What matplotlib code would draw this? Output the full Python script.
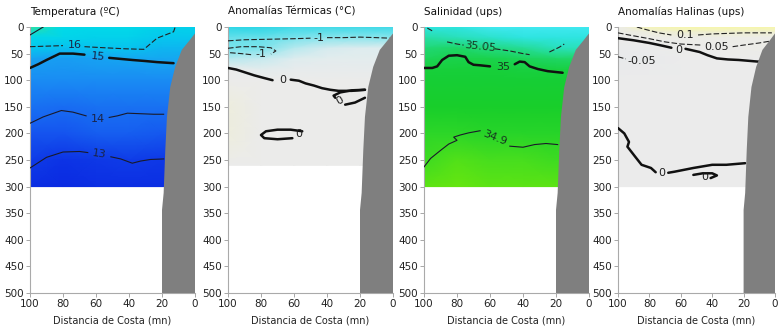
import numpy as np
import matplotlib
matplotlib.use("Agg")
import matplotlib.pyplot as plt
from matplotlib.colors import LinearSegmentedColormap, Normalize

nan = np.nan

# ejes comunes
dist = [100, 80, 60, 40, 20, 0]
x_ticks = [100, 80, 60, 40, 20, 0]
y_ticks = [0, 50, 100, 150, 200, 250, 300, 350, 400, 450, 500]

# perfil de la costa (distancia, profundidad)
land_x = [0, 0, 3, 8, 12, 15, 17, 18, 19, 20, 20, 0]
land_z = [500, 12, 24, 43, 75, 113, 169, 231, 312, 344, 500, 500]

# ---------------- Temperatura ----------------
temp_depth = [0, 20, 40, 60, 80, 100, 150, 200, 250, 300]
temp_vals = [
    [17.2, 16.6, 16.5, 16.5, 16.3, 16.3],
    [16.4, 16.4, 16.3, 16.3, 16.0, 16.0],
    [16.0, 15.8, 15.9, 15.9, 15.6, 15.6],
    [15.1, 15.0, 15.1, 15.2, 15.2, 15.2],
    [14.9, 14.85, 14.9, 14.9, 14.95, 14.9],
    [14.7, 14.7, 14.7, 14.7, 14.7, 14.7],
    [14.2, 14.1, 14.2, 14.2, 14.2, 14.2],
    [13.6, 13.6, 13.8, 13.8, 13.7, 13.7],
    [13.1, 12.9, 13.0, 13.1, 13.0, 13.0],
    [12.8, 12.7, 12.8, 12.8, 12.8, 12.8],
]
temp_lines = [
    # x, z, estilo, etiqueta, (x_lab, z_lab), rotacion
    ([100, 92], [15, 0], "thin", None, None, 0),
    ([100, 90, 80, nan, 67, 55, 42, 31, 23, 13, 12],
     [37, 36, 35, nan, 37, 39, 41, 42, 21, 9, 0], "dash", "16", (73, 34), 0),
    ([100, 95, 90, 82, 74, 67, nan, 52, 45, 38, 30, 23, 13],
     [77, 70, 62, 50, 50, 52, nan, 58, 60, 62, 64, 66, 68], "thick", "15", (59, 55), -5),
    ([100, 92, 81, 74, 66, nan, 52, 47, 41, 33, 25, 19],
     [181, 169, 157, 160, 167, nan, 170, 167, 162, 163, 164, 164], "thin", "14", (59, 172), 0),
    ([100, 95, 90, 80, 70, 65, nan, 51, 45, 38, 33, 27, 19],
     [265, 255, 245, 235, 234, 236, nan, 244, 248, 256, 252, 249, 248], "thin", "13", (58, 238), -8),
]

# ---------------- Anomalias termicas ----------------
at_depth = [0, 20, 40, 60, 80, 100, 150, 200, 260]
at_vals = [
    [-1.4, -1.4, -1.3, -1.3, -1.3, -1.3],
    [-1.1, -1.1, -1.0, -0.9, -0.9, -0.9],
    [-1.0, -1.0, -0.6, -0.4, -0.3, -0.3],
    [-0.6, -0.5, -0.3, -0.2, -0.2, -0.2],
    [0.0, -0.2, -0.1, -0.1, -0.1, -0.1],
    [0.0, 0.0, 0.0, 0.0, 0.0, 0.0],
    [0.05, 0.0, 0.0, 0.0, 0.0, 0.0],
    [0.05, 0.0, 0.0, 0.0, 0.0, 0.0],
    [0.0, 0.0, 0.0, 0.0, 0.0, 0.0],
]
at_lines = [
    ([100, 90, 75, 60, 50, nan, 40, 30, 20, 10, 2],
     [26, 24, 23, 22, 21, nan, 20, 20, 19, 20, 21], "dash", "-1", (45, 20), 0),
    ([100, 92, 82, 74, 71, 74, nan, 86, 92, 100],
     [40, 37, 37, 39, 45, 51, nan, 52, 50, 48], "dash", "-1", (80, 51), 0),
    ([100, 95, 90, 84, 78, 73, nan, 62, 57, 53, 48, 43, 38, 33, 25, 17],
     [77, 80, 85, 91, 96, 100, nan, 99, 101, 106, 110, 115, 118, 120, 120, 118], "thick", "0", (67, 100), 0),
    ([17, 25, 32, 36, 35, nan, 29, 23, 17],
     [118, 119, 123, 129, 133, nan, 146, 142, 133], "thick", "0", (32, 138), 30),
    ([55, 62, 70, 77, 80, 78, 70, 61],
     [196, 193, 193, 196, 203, 209, 211, 209], "thick", "0", (57, 202), 0),
]

# ---------------- Salinidad ----------------
sal_depth = [0, 20, 40, 60, 80, 100, 150, 200, 250, 300]
sal_vals = [
    [35.10, 35.10, 35.12, 35.12, 35.12, 35.12],
    [35.07, 35.08, 35.09, 35.10, 35.10, 35.10],
    [35.04, 35.03, 35.05, 35.06, 35.08, 35.08],
    [35.02, 35.01, 35.01, 35.02, 35.03, 35.03],
    [34.99, 34.99, 34.99, 35.00, 35.00, 35.00],
    [34.98, 34.98, 34.98, 34.98, 34.98, 34.98],
    [34.95, 34.95, 34.95, 34.95, 34.95, 34.95],
    [34.91, 34.91, 34.92, 34.92, 34.92, 34.92],
    [34.89, 34.87, 34.88, 34.88, 34.89, 34.89],
    [34.86, 34.85, 34.86, 34.86, 34.86, 34.86],
]
sal_lines = [
    ([98, 94], [2, 9], "dash", None, None, 0),
    ([86, 80, 76, nan, 57, 48, 40, 36, nan, 24, 18, 15],
     [28, 32, 34, nan, 41, 45, 50, 52, nan, 47, 38, 32], "dash", "35.05", (66, 37), -6),
    ([100, 95, 92, 89, 85, 80, 75, 73, 70, 66, 60, nan, 45, 42, 39, 36, 31, 25, 16],
     [77, 77, 74, 62, 54, 53, 56, 66, 71, 72, 74, nan, 70, 65, 66, 74, 79, 83, 86], "thick", "35", (52, 76), 0),
    ([100, 96, 90, 85, 80, 82, 78, 73, 66, nan, 48, 40, 33, 26, 19],
     [263, 247, 232, 220, 213, 207, 203, 199, 195, nan, 224, 226, 221, 219, 221], "thin", "34.9", (57, 209), -22),
]

# ---------------- Anomalias halinas ----------------
ah_depth = [0, 10, 20, 40, 60, 100, 200, 300]
ah_vals = [
    [0.08, 0.13, 0.14, 0.14, 0.14, 0.14],
    [0.05, 0.10, 0.11, 0.11, 0.11, 0.11],
    [0.02, 0.05, 0.07, 0.08, 0.08, 0.08],
    [-0.02, 0.0, 0.02, 0.04, 0.05, 0.05],
    [-0.05, -0.03, -0.01, 0.0, 0.0, 0.0],
    [0.0, 0.0, 0.0, 0.0, 0.0, 0.0],
    [0.0, 0.0, 0.0, 0.0, 0.0, 0.0],
    [0.0, 0.0, 0.0, 0.0, 0.0, 0.0],
]
ah_lines = [
    ([88, 82, 74, 66, nan, 49, 40, 30, 20, 8, 2],
     [0, 5, 11, 15, nan, 15, 13, 12, 11, 11, 11], "dash", "0.1", (57, 15), 0),
    ([100, 93, 80, 70, 60, 47, nan, 27, 20, 10, 2],
     [11, 15, 22, 28, 32, 34, nan, 37, 34, 30, 26], "dash", "0.05", (37, 38), 0),
    ([100, 90, 80, 72, 66, nan, 57, 48, 43, 37, 30, 23, 11, 3],
     [21, 25, 30, 35, 39, nan, 41, 47, 53, 59, 61, 62, 65, 66], "thick", "0", (61, 44), 0),
    ([100, 95], [56, 60], "dash", "-0.05", (85, 63), 0),
    ([100, 96, 93, 94, 89, 85, 79, 76, nan, 68, 64, 52, 40, 31, 19],
     [190, 200, 216, 225, 244, 259, 265, 273, nan, 274, 272, 265, 259, 259, 256], "thick", "0", (72, 275), 0),
    ([52, 46, 40, 37, 41], [278, 275, 275, 279, 284], "thick", "0", (45, 282), 0),
]

# colores
cm_temp = LinearSegmentedColormap.from_list("temp", [
    (0.0, "#0a2ae2"), (0.18, "#1450ee"), (0.40, "#1a80f4"), (0.52, "#18a0f2"),
    (0.73, "#06c6ee"), (0.87, "#00dce8"), (1.0, "#30e0a0")])
cm_at = LinearSegmentedColormap.from_list("at", [
    (0.0, "#2cd6e6"), (0.28, "#7ee4ec"), (0.7, "#dcecef"), (0.93, "#ebebeb"), (1.0, "#eeeed4")])
cm_sal = LinearSegmentedColormap.from_list("sal", [
    (0.0, "#66e610"), (0.19, "#30d828"), (0.4, "#14cc2a"), (0.56, "#18d040"),
    (0.74, "#22da80"), (0.93, "#2ee4e0"), (1.0, "#40e8f0")])
cm_ah = LinearSegmentedColormap.from_list("ah", [
    (0.0, "#e4e8ea"), (0.4, "#ebebeb"), (0.8, "#ecece6"), (0.9, "#f0f0cc"), (1.0, "#f6f6aa")])

panels = [
    ("Temperatura (ºC)", temp_depth, temp_vals, cm_temp, (12.7, 17.2), temp_lines, "#1a2448"),
    ("Anomalías Térmicas (°C)", at_depth, at_vals, cm_at, (-1.4, 0.1), at_lines, "#202020"),
    ("Salinidad (ups)", sal_depth, sal_vals, cm_sal, (34.85, 35.12), sal_lines, "#163820"),
    ("Anomalías Halinas (ups)", ah_depth, ah_vals, cm_ah, (-0.1, 0.14), ah_lines, "#202020"),
]

W, H = 780, 333
fig = plt.figure(figsize=(W / 100, H / 100), dpi=100)
fig.patch.set_facecolor("white")

lefts = [30, 228, 424, 618]
widths = [165, 165, 165, 157]
ax_top, ax_bot = 27, 293

for left, ax_w, (title, depth, vals, cmap, (vmin, vmax), lines, lab_col) in zip(lefts, widths, panels):
    ax = fig.add_axes([left / W, (H - ax_bot) / H, ax_w / W, (ax_bot - ax_top) / H])
    X, Z = np.meshgrid(dist, depth)
    ax.pcolormesh(X, Z, np.array(vals), cmap=cmap, norm=Normalize(vmin, vmax),
                  shading="gouraud", zorder=1)

    for xs, zs, style, label, pos, rot in lines:
        if style == "thick":
            ax.plot(xs, zs, color="#111111", lw=1.8, zorder=3, solid_capstyle="round")
        elif style == "dash":
            ax.plot(xs, zs, color="#222222", lw=0.8, ls=(0, (5, 2)), zorder=3)
        else:
            ax.plot(xs, zs, color="#1a1a2a", lw=0.8, zorder=3)
        if label:
            ax.text(pos[0], pos[1], label, fontsize=8, color=lab_col, ha="center",
                    va="center", rotation=rot, zorder=4)

    ax.fill(land_x, land_z, color="#7f7f7f", lw=0, zorder=5)

    ax.set_xlim(100, 0)
    ax.set_ylim(500, 0)
    ax.set_xticks(x_ticks)
    ax.set_yticks(y_ticks)
    ax.tick_params(labelsize=7.5, length=3, width=0.6, color="#999999", pad=1.5,
                   labelcolor="#222222")
    for s in ["top", "right"]:
        ax.spines[s].set_visible(False)
    for s in ["left", "bottom"]:
        ax.spines[s].set_color("#aaaaaa")
        ax.spines[s].set_linewidth(0.8)
    ax.set_facecolor("white")
    ax.text(0.0, 1.058, title, transform=ax.transAxes, fontsize=7.5, ha="left",
            va="center", color="#111111")
    ax.text(0.5, -0.103, "Distancia de Costa (mn)", transform=ax.transAxes,
            fontsize=7, ha="center", va="center", color="#222222")

fig.savefig("out.png", dpi=100)
